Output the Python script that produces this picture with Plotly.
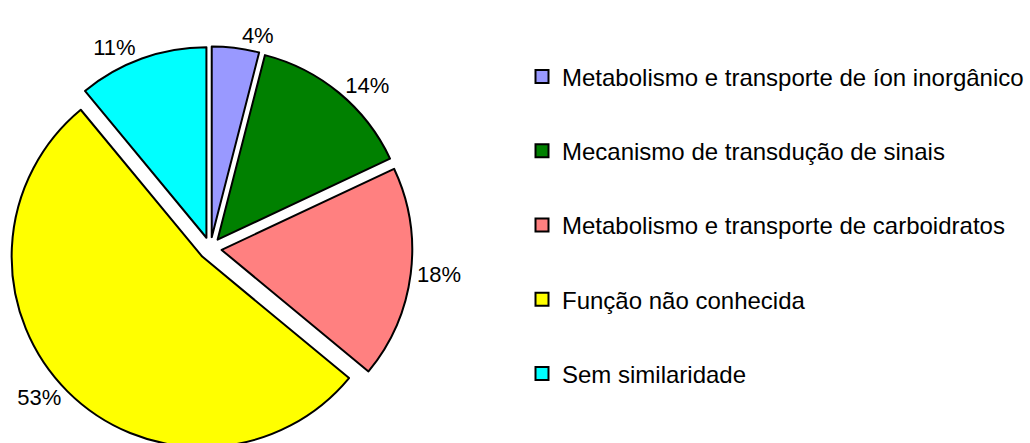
import plotly.graph_objects as go

categories = [
    "Metabolismo e transporte de íon inorgânico",
    "Mecanismo de transdução de sinais",
    "Metabolismo e transporte de carboidratos",
    "Função não conhecida",
    "Sem similaridade",
]
values = [4, 14, 18, 53, 11]
colors = ["#9999FF", "#008000", "#FF8080", "#FFFF00", "#00FFFF"]

W, H = 1030, 497
FONT = "Liberation Sans, Arial, sans-serif"

fig = go.Figure()
fig.add_trace(go.Pie(
    labels=categories,
    values=values,
    sort=False,
    direction="clockwise",
    rotation=0,
    pull=[0.06] * len(values),
    marker=dict(colors=colors, line=dict(color="black", width=2)),
    textposition="outside",
    texttemplate="%{percent:.0%}",
    textfont=dict(family=FONT, size=22, color="black"),
    showlegend=False,
    domain=dict(x=[8.3 / W, 412.3 / W], y=[0, 1]),
    hoverinfo="label+percent",
))

for i, (cat, col) in enumerate(zip(categories, colors)):
    fig.add_trace(go.Scatter(
        x=[None], y=[None], mode="markers", name=cat,
        legendgroup=f"g{i}",
        marker=dict(symbol="square", size=13, color=col, line=dict(color="black", width=2)),
    ))

fig.update_layout(
    width=W, height=H,
    margin=dict(l=0, r=0, t=0, b=0, autoexpand=False),
    paper_bgcolor="white", plot_bgcolor="white",
    xaxis=dict(visible=False), yaxis=dict(visible=False),
    font=dict(family=FONT, size=24, color="black"),
    legend=dict(
        x=522 / W, xanchor="left",
        y=1 - 54.5 / H, yanchor="top",
        traceorder="grouped", tracegroupgap=40,
        font=dict(family=FONT, size=24, color="black"),
        bgcolor="rgba(0,0,0,0)",
    ),
)

fig.write_html(
    "out.html",
    config={"displayModeBar": False},
    post_script="document.body.style.margin='0';document.body.style.overflow='hidden';document.documentElement.style.overflow='hidden';",
)
